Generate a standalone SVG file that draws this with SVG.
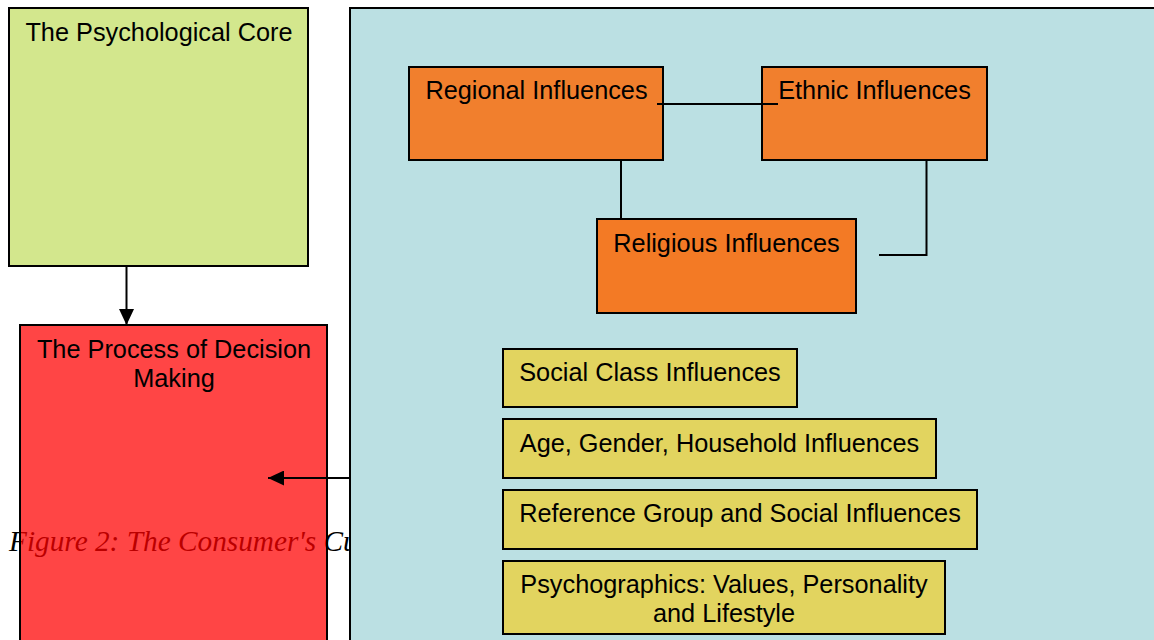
<svg xmlns="http://www.w3.org/2000/svg" width="1154" height="640" viewBox="0 0 1154 640">
<style>
.box{stroke:#000;stroke-width:2}
.lbl{font-family:"Liberation Sans",Arial,sans-serif;font-size:25.3px;fill:#000;text-anchor:middle}
.ln{stroke:#000;stroke-width:2;fill:none}
</style>
<defs>
<marker id="ah" viewBox="0 0 16 15" refX="16" refY="7.5" markerWidth="16" markerHeight="15" markerUnits="userSpaceOnUse" orient="auto">
<path d="M0,0 L16,7.5 L0,15 z" fill="#000"/>
</marker>
</defs>
<rect width="1154" height="640" fill="#fff"/>
<text x="9" y="551" font-family="'Liberation Serif','Times New Roman',serif" font-style="italic" font-size="29.3" fill="#000">Figure 2: The Consumer's Culture</text>
<g id="psych-core">
<rect class="box" x="9" y="8" width="299" height="258" fill="#D3E78D"/>
<text class="lbl" x="159" y="41">The Psychological Core</text>
</g>
<g id="decision">
<rect x="20" y="325" width="307" height="330" fill="#FF0000" fill-opacity="0.73" stroke="#000" stroke-width="2"/>
<text class="lbl" x="174" y="358">The Process of Decision</text>
<text class="lbl" x="174" y="387">Making</text>
</g>
<g id="culture-panel">
<rect class="box" x="350" y="8" width="820" height="650" fill="#BBE0E3"/>
</g>
<g id="regional">
<rect class="box" x="409" y="67" width="254" height="93" fill="#F17F2D"/>
<text class="lbl" x="536.5" y="99">Regional Influences</text>
</g>
<g id="ethnic">
<rect class="box" x="762" y="67" width="225" height="93" fill="#F17F2D"/>
<text class="lbl" x="874.5" y="99">Ethnic Influences</text>
</g>
<g id="religious">
<rect class="box" x="597" y="219" width="259" height="94" fill="#F37A25"/>
<text class="lbl" x="726.5" y="252">Religious Influences</text>
</g>
<g id="social-class">
<rect class="box" x="503" y="349" width="294" height="58" fill="#E2D45F"/>
<text class="lbl" x="650" y="381">Social Class Influences</text>
</g>
<g id="age-gender">
<rect class="box" x="503" y="419" width="433" height="59" fill="#E2D45F"/>
<text class="lbl" x="719.5" y="452">Age, Gender, Household Influences</text>
</g>
<g id="reference-group">
<rect class="box" x="503" y="490" width="474" height="59" fill="#E2D45F"/>
<text class="lbl" x="740" y="522">Reference Group and Social Influences</text>
</g>
<g id="psychographics">
<rect class="box" x="503" y="561" width="442" height="73" fill="#E2D45F"/>
<text class="lbl" x="724" y="593">Psychographics: Values, Personality</text>
<text class="lbl" x="724" y="622">and Lifestyle</text>
</g>
<g id="connectors">
<line class="ln" x1="126.5" y1="266" x2="126.5" y2="325" marker-end="url(#ah)"/>
<line class="ln" x1="350" y1="478" x2="268" y2="478" marker-end="url(#ah)"/>
<line class="ln" x1="657" y1="104" x2="778" y2="104"/>
<line class="ln" x1="621" y1="160" x2="621" y2="219"/>
<polyline class="ln" points="926.5,160 926.5,255 879,255"/>
</g>
</svg>
